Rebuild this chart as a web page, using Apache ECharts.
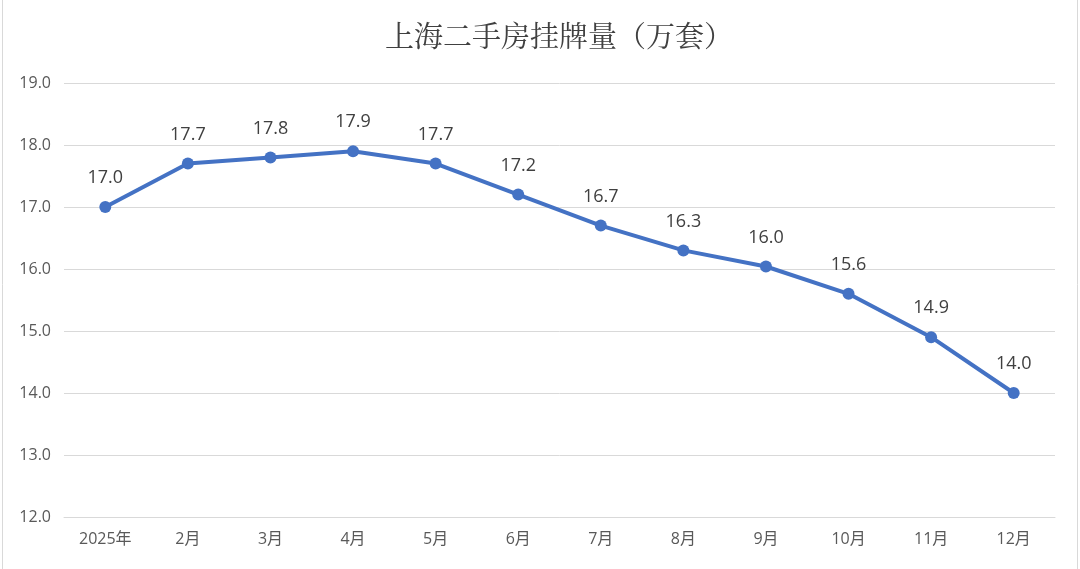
<!DOCTYPE html>
<html>
<head>
<meta charset="utf-8">
<script src="https://cdn.jsdelivr.net/npm/echarts@6/dist/echarts.min.js"></script>
<style>
html,body{margin:0;padding:0;background:#fff;}
#c{width:1080px;height:569px;}
</style>
</head>
<body>
<div id="c"></div>
<script>
const titleText = '上海二手房挂牌量（万套）';
const categories = ['2025年','2月','3月','4月','5月','6月','7月','8月','9月','10月','11月','12月'];
const listings = [17.0, 17.7, 17.8, 17.9, 17.7, 17.2, 16.7, 16.3, 16.04, 15.6, 14.9, 14.0];
const yMin = 12, yMax = 19, yStep = 1;

const chart = echarts.init(document.getElementById('c'), null, {renderer: 'canvas'});
chart.setOption({
  backgroundColor: '#ffffff',
  animation: false,
  title: {
    text: titleText,
    left: 380,
    top: 16,
    textStyle: {
      fontFamily: '"Noto Serif CJK SC", "Noto Sans CJK SC", serif',
      fontSize: 29,
      fontWeight: 'normal',
      color: '#404040'
    }
  },
  graphic: [
    {type: 'line', shape: {x1: 2.5, y1: 0, x2: 2.5, y2: 569}, style: {stroke: '#d9d9d9', lineWidth: 1}},
    {type: 'line', shape: {x1: 1077.5, y1: 0, x2: 1077.5, y2: 569}, style: {stroke: '#d9d9d9', lineWidth: 1}}
  ],
  grid: {left: 64, right: 25, top: 83, bottom: 52, containLabel: false},
  xAxis: {
    type: 'category',
    data: categories,
    boundaryGap: true,
    axisLine: {show: true, lineStyle: {color: '#d9d9d9', width: 1}},
    axisTick: {show: false},
    axisLabel: {color: '#595959', fontSize: 16, margin: 14, fontFamily: '"Open Sans", "Noto Sans CJK SC", sans-serif'}
  },
  yAxis: {
    type: 'value',
    min: yMin,
    max: yMax,
    interval: yStep,
    axisLine: {show: false},
    axisTick: {show: false},
    splitLine: {lineStyle: {color: '#d9d9d9', width: 1}},
    axisLabel: {
      color: '#595959', fontSize: 16, margin: 13,
      fontFamily: '"Open Sans", "Noto Sans", sans-serif',
      formatter: v => v.toFixed(1)
    }
  },
  series: [{
    type: 'line',
    data: listings,
    symbol: 'circle',
    symbolSize: 12,
    lineStyle: {color: '#4472C4', width: 4},
    itemStyle: {color: '#4472C4'},
    label: {
      show: true,
      position: 'top',
      distance: 14,
      color: '#404040',
      fontSize: 18,
      fontFamily: '"Open Sans", "Noto Sans", sans-serif',
      formatter: p => p.value.toFixed(1)
    }
  }]
});
</script>
</body>
</html>
